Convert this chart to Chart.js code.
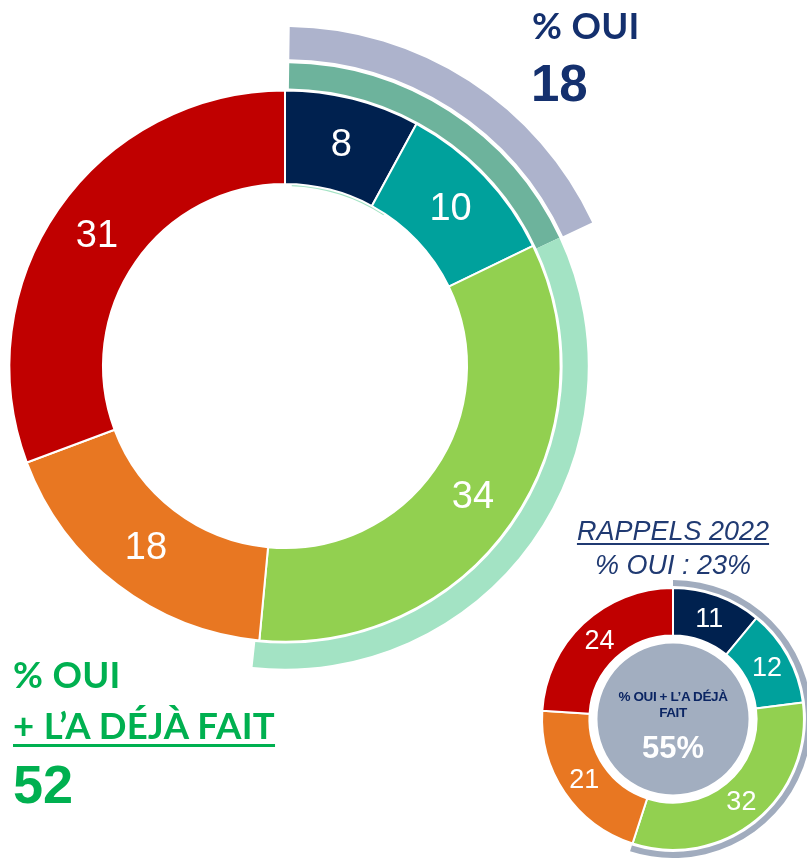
<!DOCTYPE html>
<html lang="fr">
  <head>
    <meta charset="UTF-8" />
    <title>Intentions</title>
    <script src="https://cdn.jsdelivr.net/npm/chart.js"></script>
    <style>
      html,
      body {
        margin: 0;
        width: 807px;
        height: 861px;
        overflow: hidden;
        background: #fff;
        font-family: "Liberation Sans", Arial, sans-serif;
      }
      #page {
        position: relative;
        width: 807px;
        height: 861px;
      }
      .abs {
        position: absolute;
        line-height: 1;
        white-space: nowrap;
      }
      .big-title {
        font-family: "Lato", sans-serif;
        font-weight: 700;
        font-size: 36.5px;
        letter-spacing: 0.3px;
      }
      .big-num {
        font-weight: 700;
        font-size: 51px;
      }
      .navy {
        color: #14306e;
      }
      .green {
        color: #00b050;
      }
      .rappels {
        color: #203a72;
        font-style: italic;
        font-size: 27px;
        text-align: center;
        width: 260px;
      }
      .center-txt {
        text-align: center;
        width: 150px;
        font-weight: 700;
      }
    </style>
  </head>
  <body>
    <div id="page">
      <div class="abs" style="left: -54px; top: 27px; width: 678px; height: 678px">
        <canvas id="mainChart"></canvas>
      </div>
      <div class="abs" style="left: 534px; top: 580px; width: 278px; height: 278px">
        <canvas id="rappelChart"></canvas>
      </div>

      <div class="abs big-title navy" style="left: 532px; top: 7px">% OUI</div>
      <div class="abs big-num navy" id="ouiTop" style="left: 531px; top: 58px"></div>

      <div class="abs big-title green" style="left: 13px; top: 656px">% OUI</div>
      <div
        class="abs big-title green"
        style="left: 13px; top: 707px; text-decoration: underline; text-decoration-thickness: 3px; text-underline-offset: 5px"
      >
        + L’A DÉJÀ FAIT
      </div>
      <div class="abs big-num green" id="ouiPlusLeft" style="left: 13px; top: 757px; font-size: 54px"></div>

      <div class="abs rappels" style="left: 543px; top: 518px; text-decoration: underline; text-decoration-thickness: 2px; text-underline-offset: 3px">
        RAPPELS 2022
      </div>
      <div class="abs rappels" id="rappelOui" style="left: 543px; top: 552px"></div>

      <div class="abs center-txt" style="left: 598px; top: 689px; font-size: 13.5px; line-height: 16px; color: #0b2563; letter-spacing: -0.4px">
        % OUI + L’A DÉJÀ<br />FAIT
      </div>
      <div class="abs center-txt" id="rappelCenter" style="left: 598px; top: 732px; font-size: 31px; color: #fff"></div>
    </div>

    <script>
      // answer categories, clockwise from the top
      const categories = ["Oui", "L'a déjà fait", "Peut-être", "Non, plutôt pas", "Non, certainement pas"];
      const colors = ["#00214f", "#00a19c", "#92d050", "#e87722", "#c00000"];

      const mainValues = [8, 10, 34, 18, 31];
      const rappelValues = [11, 12, 32, 21, 24];

      // thin remnant ring just inside the main ring (gap, arc, gap)
      const innerSliver = [0.6, 8.7, 91.7];

      const sum = (arr, n) => arr.slice(0, n).reduce((a, b) => a + b, 0);

      const mainTotal = sum(mainValues, mainValues.length);
      const mainOui = sum(mainValues, 2);
      const mainOuiPlus = sum(mainValues, 3);

      const rappelTotal = sum(rappelValues, rappelValues.length);
      const rappelOui = sum(rappelValues, 2);
      const rappelOuiPlus = sum(rappelValues, 3);

      document.getElementById("ouiTop").textContent = mainOui;
      document.getElementById("ouiPlusLeft").textContent = mainOuiPlus;
      document.getElementById("rappelOui").textContent = `% OUI : ${rappelOui}%`;
      document.getElementById("rappelCenter").textContent = `${rappelOuiPlus}%`;

      const spacer = (w) => ({
        data: [1],
        backgroundColor: ["rgba(0,0,0,0)"],
        borderWidth: 0,
        weight: w,
      });

      // white numbers in the middle of each slice of the labelled ring
      const sliceLabels = (fontSize) => ({
        id: "sliceLabels",
        afterDatasetsDraw(chart) {
          const idx = chart.data.datasets.findIndex((d) => d.showLabels);
          const meta = chart.getDatasetMeta(idx);
          const ctx = chart.ctx;
          ctx.save();
          ctx.fillStyle = "#fff";
          ctx.font = `${fontSize}px "Liberation Sans", Arial, sans-serif`;
          ctx.textAlign = "center";
          ctx.textBaseline = "middle";
          meta.data.forEach((arc, i) => {
            const p = arc.getCenterPoint();
            ctx.fillText(chart.data.datasets[idx].data[i], p.x, p.y + 1);
          });
          ctx.restore();
        },
      });

      const baseOptions = {
        responsive: true,
        maintainAspectRatio: false,
        animation: false,
        events: [],
        plugins: { legend: { display: false }, tooltip: { enabled: false } },
      };

      new Chart(document.getElementById("mainChart"), {
        type: "doughnut",
        data: {
          labels: categories,
          datasets: [
            {
              data: [mainOui, mainTotal - mainOui],
              backgroundColor: ["#adb3cc", "rgba(0,0,0,0)"],
              borderWidth: 0,
              weight: 32,
              rotation: 0.8,
            },
            spacer(4),
            {
              data: [mainOui, mainOuiPlus - mainOui, mainTotal - mainOuiPlus],
              backgroundColor: ["#6db39c", "#a3e3c4", "rgba(0,0,0,0)"],
              borderWidth: 0,
              weight: 25,
              rotation: 0.8,
            },
            spacer(2),
            {
              data: mainValues,
              backgroundColor: colors,
              borderColor: "#fff",
              borderWidth: 2,
              weight: 93,
              showLabels: true,
            },
            {
              data: innerSliver,
              backgroundColor: ["rgba(0,0,0,0)", "#a3e3c4", "rgba(0,0,0,0)"],
              borderWidth: 0,
              weight: 2,
            },
          ],
        },
        options: { ...baseOptions, cutout: 180 },
        plugins: [sliceLabels(38)],
      });

      new Chart(document.getElementById("rappelChart"), {
        type: "doughnut",
        data: {
          labels: categories,
          datasets: [
            {
              data: [rappelOuiPlus, rappelTotal - rappelOuiPlus],
              backgroundColor: ["#a1acbe", "rgba(0,0,0,0)"],
              borderWidth: 0,
              weight: 6,
            },
            spacer(2),
            {
              data: rappelValues,
              backgroundColor: colors,
              borderColor: "#fff",
              borderWidth: 2,
              weight: 47,
              showLabels: true,
            },
            spacer(8),
            {
              data: [1],
              backgroundColor: ["#a2aec0"],
              borderWidth: 0,
              weight: 75,
            },
          ],
        },
        options: { ...baseOptions, cutout: 0 },
        plugins: [sliceLabels(27)],
      });
    </script>
  </body>
</html>
